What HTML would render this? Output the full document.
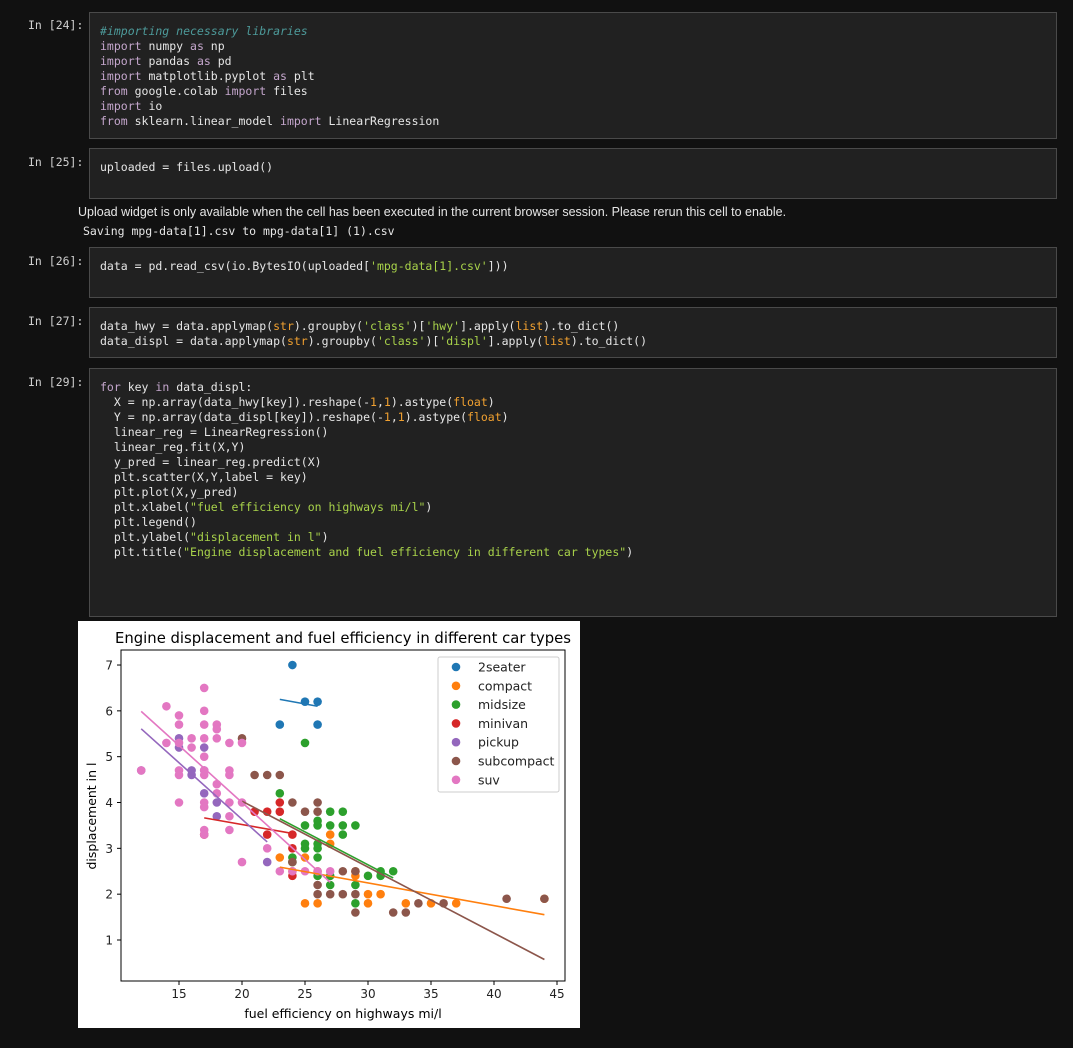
<!DOCTYPE html>
<html><head><meta charset="utf-8"><style>
body{margin:0;width:1073px;height:1048px;background:#111111;position:relative;overflow:hidden;font-family:"DejaVu Sans Mono","Liberation Mono",monospace}
.p{position:absolute;left:28px;color:#d0d0d0;font-size:11.5px}
.c{position:absolute;left:89px;width:968px;background:#212121;border:1px solid #4a4a4a;box-sizing:border-box}
pre{margin:0;padding:11px 0 0 10px;font-family:"DejaVu Sans Mono","Liberation Mono",monospace;font-size:11.5px;line-height:15px;color:#e6e6e6}
.k{color:#c4a6cc}.cm{color:#4d9a9a;font-style:italic}.s{color:#a8d24a}.o{color:#f0a030}
.out{position:absolute;color:#e6e6e6}
</style></head><body>
<div class="p" style="top:18px">In [24]:</div>
<div class="c" style="top:12px;height:127px"><pre><span class="cm">#importing necessary libraries</span>
<span class="k">import</span> numpy <span class="k">as</span> np
<span class="k">import</span> pandas <span class="k">as</span> pd
<span class="k">import</span> matplotlib.pyplot <span class="k">as</span> plt
<span class="k">from</span> google.colab <span class="k">import</span> files
<span class="k">import</span> io
<span class="k">from</span> sklearn.linear_model <span class="k">import</span> LinearRegression</pre></div>
<div class="p" style="top:155px">In [25]:</div>
<div class="c" style="top:148px;height:51px"><pre>uploaded = files.upload()</pre></div>
<div class="out" style="left:78px;top:205px;font-family:'Liberation Sans',sans-serif;font-size:12.5px">Upload widget is only available when the cell has been executed in the current browser session. Please rerun this cell to enable.</div>
<div class="out" style="left:83px;top:224px;font-size:11.5px">Saving mpg-data[1].csv to mpg-data[1] (1).csv</div>
<div class="p" style="top:254px">In [26]:</div>
<div class="c" style="top:247px;height:51px"><pre>data = pd.read_csv(io.BytesIO(uploaded[<span class="s">'mpg-data[1].csv'</span>]))</pre></div>
<div class="p" style="top:314px">In [27]:</div>
<div class="c" style="top:307px;height:51px"><pre>data_hwy = data.applymap(<span class="o">str</span>).groupby(<span class="s">'class'</span>)[<span class="s">'hwy'</span>].apply(<span class="o">list</span>).to_dict()
data_displ = data.applymap(<span class="o">str</span>).groupby(<span class="s">'class'</span>)[<span class="s">'displ'</span>].apply(<span class="o">list</span>).to_dict()</pre></div>
<div class="p" style="top:375px">In [29]:</div>
<div class="c" style="top:368px;height:249px"><pre><span class="k">for</span> key <span class="k">in</span> data_displ:
  X = np.array(data_hwy[key]).reshape(-<span class="o">1</span>,<span class="o">1</span>).astype(<span class="o">float</span>)
  Y = np.array(data_displ[key]).reshape(-<span class="o">1</span>,<span class="o">1</span>).astype(<span class="o">float</span>)
  linear_reg = LinearRegression()
  linear_reg.fit(X,Y)
  y_pred = linear_reg.predict(X)
  plt.scatter(X,Y,label = key)
  plt.plot(X,y_pred)
  plt.xlabel(<span class="s">"fuel efficiency on highways mi/l"</span>)
  plt.legend()
  plt.ylabel(<span class="s">"displacement in l"</span>)
  plt.title(<span class="s">"Engine displacement and fuel efficiency in different car types"</span>)</pre></div>
<svg id="chart" style="position:absolute;left:78px;top:621px" width="502" height="407" font-family="'DejaVu Sans','Liberation Sans',sans-serif"></svg>
<script>
const classNames=["2seater","compact","midsize","minivan","pickup","subcompact","suv"];
const colors=["#1f77b4","#ff7f0e","#2ca02c","#d62728","#9467bd","#8c564b","#e377c2"];
const hwy2seater=[23,24,25,26,26];
const displ2seater=[5.7,7.0,6.2,6.2,5.7];
const hwyCompact=[23,24,25,25,26,26,27,27,29,29,30,30,31,33,35,37,44];
const displCompact=[2.8,2.5,2.8,1.8,1.8,2.5,3.3,3.1,2.4,2.5,2.0,1.8,2.0,1.8,1.8,1.8,1.9];
const hwyMidsize=[25,23,24,24,25,25,25,26,26,26,26,26,26,27,27,27,27,28,28,28,29,29,29,30,31,31,32];
const displMidsize=[5.3,4.2,2.8,2.7,3.5,3.1,3.0,3.6,3.5,3.1,3.0,2.8,2.4,3.8,3.5,2.4,2.2,3.8,3.5,3.3,3.5,2.2,1.8,2.4,2.5,2.4,2.5];
const hwyMinivan=[17,21,22,22,23,23,24,24,24];
const displMinivan=[3.3,3.8,3.8,3.3,4.0,3.8,3.3,3.0,2.4];
const hwyPickup=[12,15,15,16,16,17,17,17,18,18,22];
const displPickup=[4.7,5.4,5.2,4.7,4.6,5.2,4.7,4.2,4.0,3.7,2.7];
const hwySubcompact=[20,21,22,23,24,24,25,26,26,26,26,27,28,28,29,29,29,32,33,34,36,41,44];
const displSubcompact=[5.4,4.6,4.6,4.6,4.0,2.7,3.8,4.0,3.8,2.2,2.0,2.0,2.0,2.5,2.0,1.6,2.5,1.6,1.6,1.8,1.8,1.9,1.9];
const hwySuv=[12,14,14,15,15,15,15,15,15,16,16,17,17,17,17,17,17,17,17,17,17,17,18,18,18,18,18,19,19,19,19,19,19,20,20,20,22,23,24,25,26,27];
const displSuv=[4.7,6.1,5.3,5.9,5.7,5.3,4.7,4.6,4.0,5.4,5.2,6.5,6.0,5.7,5.4,5.0,4.7,4.6,4.0,3.9,3.4,3.3,5.7,5.6,5.4,4.4,4.2,5.3,4.7,4.6,4.0,3.7,3.4,5.3,4.0,2.7,3.0,2.5,2.5,2.5,2.5,2.5];
const xTicks=[15,20,25,30,35,40,45];
const yTicks=[1,2,3,4,5,6,7];
const groupsX=[hwy2seater,hwyCompact,hwyMidsize,hwyMinivan,hwyPickup,hwySubcompact,hwySuv];
const groupsY=[displ2seater,displCompact,displMidsize,displMinivan,displPickup,displSubcompact,displSuv];

const NS="http://www.w3.org/2000/svg";
const svg=document.getElementById('chart');
const L=43,T=29,R=487,B=360;
function xs(v){return 101+(v-15)*12.6;}
function ys(v){return 319-(v-1)*45.83;}
function mk(tag,attrs,parent){const e=document.createElementNS(NS,tag);for(const k in attrs)e.setAttribute(k,attrs[k]);(parent||svg).appendChild(e);return e;}
const bg=mk('rect',{x:0,y:0,width:502,height:407,fill:'#fff'});


const title=mk('text',{x:37,y:22,'font-size':'15',fill:'#000',textLength:456,lengthAdjust:'spacingAndGlyphs'});
title.textContent='Engine displacement and fuel efficiency in different car types';


xTicks.forEach(t=>{const x=xs(t);
 const l=mk('line',{x1:x,x2:x,y1:B,y2:B+4,stroke:'#000'});
 
 
 const tx=mk('text',{x:x,y:B+17,'text-anchor':'middle','font-size':'12',fill:'#222'});tx.textContent=t;
 
 });
yTicks.forEach(t=>{const y=ys(t);
 const l=mk('line',{x1:L-4,x2:L,y1:y,y2:y,stroke:'#000'});
 
 
 const tx=mk('text',{x:L-8,y:y+4.5,'text-anchor':'end','font-size':'12',fill:'#222'});tx.textContent=t;
 
 });
const xl=mk('text',{x:265,y:397,'text-anchor':'middle','font-size':'12.5',fill:'#000'});xl.textContent='fuel efficiency on highways mi/l';


const yl=mk('text',{x:0,y:0,'text-anchor':'middle','font-size':'12.5',fill:'#000',transform:'translate(18,195) rotate(-90)'});yl.textContent='displacement in l';


const fits=[];
groupsX.forEach((X,g)=>{const Y=groupsY[g];
 const grp=mk('g',{});
 
 
 X.forEach((v,i)=>{const c=mk('circle',{cx:xs(v),cy:ys(Y[i]),r:4.3,fill:colors[g]},grp);
  
  });
 const n=X.length;let mx=0,my=0;X.forEach((v,i)=>{mx+=v;my+=Y[i];});mx/=n;my/=n;
 let sxy=0,sxx=0;X.forEach((v,i)=>{sxy+=(v-mx)*(Y[i]-my);sxx+=(v-mx)*(v-mx);});
 const b=sxx?sxy/sxx:0,a=my-b*mx;
 fits.push({x0:Math.min(...X),x1:Math.max(...X),a,b});});
fits.forEach((f,g)=>{
 const ln=mk('line',{x1:xs(f.x0),y1:ys(f.a+f.b*f.x0),x2:xs(f.x1),y2:ys(f.a+f.b*f.x1),stroke:colors[g],'stroke-width':1.6});
 
 });
const frame=mk('rect',{x:L,y:T,width:R-L,height:B-T,fill:'none',stroke:'#000','stroke-width':1});


const lg=mk('g',{});


mk('rect',{x:360,y:36,width:121,height:135,rx:2,fill:'#fff',stroke:'#ccc'},lg);
classNames.forEach((nm,i)=>{const y=46+i*18.8;
 const c=mk('circle',{cx:378,cy:y,r:4.3,fill:colors[i]},lg);
 
 
 const t=mk('text',{x:400,y:y+4.5,'font-size':'12.5',fill:'#222'},lg);t.textContent=nm;
 
 });
</script>
</body></html>
